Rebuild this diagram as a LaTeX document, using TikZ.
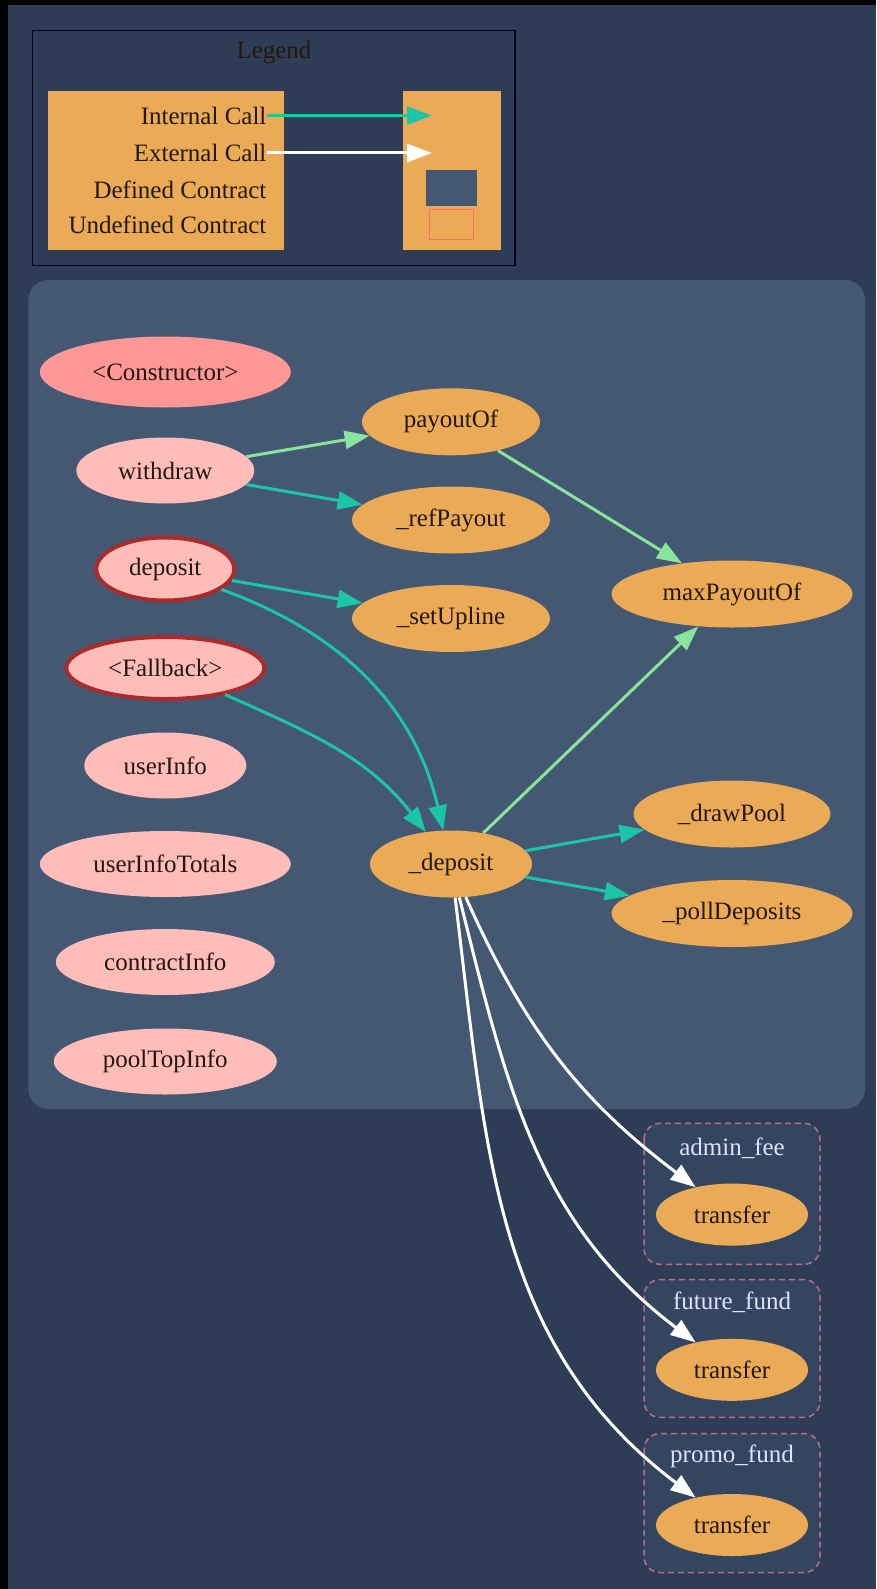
\documentclass[tikz,border=0pt]{standalone}
\usepackage{fontspec}
\setmainfont{Liberation Serif}
\usetikzlibrary{arrows.meta,shapes.geometric}
\definecolor{bgc}{HTML}{2E3D55}
\definecolor{clc}{HTML}{445773}
\definecolor{orc}{HTML}{EBAA55}
\definecolor{pkc}{HTML}{FFBDB9}
\definecolor{ctc}{HTML}{FF9797}
\definecolor{brc}{HTML}{A82C2C}
\definecolor{tlc}{HTML}{1BC6A6}
\definecolor{lgc}{HTML}{87E59C}
\definecolor{txc}{HTML}{22180E}
\definecolor{dsc}{HTML}{B86E88}
\definecolor{sbc}{HTML}{34465F}
\definecolor{rdc}{HTML}{FF6B6B}
\tikzset{
  fn/.style={ellipse, inner sep=0pt, text=txc, font=\fontsize{25}{30}\selectfont},
  pub/.style={fn, fill=pkc},
  ctor/.style={fn, fill=ctc},
  pay/.style={pub, draw=brc, line width=4pt},
  priv/.style={fn, fill=orc},
  icall/.style={draw=tlc, line width=3pt, -{Triangle[length=25pt,width=18pt]}},
  lcall/.style={draw=lgc, line width=3pt, -{Triangle[length=25pt,width=18pt]}},
  ecall/.style={draw=white, line width=3pt, -{Triangle[length=25pt,width=18pt]}},
  sub/.style={draw=dsc, fill=sbc, line width=1.5pt, dash pattern=on 6pt off 4pt, rounded corners=16pt},
  lgtxt/.style={anchor=east, inner sep=0pt, text=txc, font=\fontsize{25}{30}\selectfont},
  sbt/.style={text=white!88!blue, font=\fontsize{25}{30}\selectfont}
}
\begin{document}
\begin{tikzpicture}[x=1pt,y=-1pt]
\useasboundingbox (0,0) rectangle (876,1589);
\fill[bgc] (0,0) rectangle (876,1589);
\fill[black] (0,0) rectangle (876,5);
\fill[black] (0,0) rectangle (8,1589);
% legend
\draw[draw=black!85!blue, line width=1.5pt, fill=bgc] (32.4,30.4) rectangle (515,265.6);
\node[text=txc, font=\fontsize{25}{30}\selectfont] (lgt) at (274,53) {Legend};
\fill[orc] (47.7,91.2) rectangle (284,250.4);
\fill[orc] (402.5,91.2) rectangle (501,250.4);
\node[lgtxt] (li) at (266.6,115.6) {Internal Call};
\node[lgtxt] (le) at (266.6,153) {External Call};
\node[lgtxt] (ld) at (266.6,189.6) {Defined Contract};
\node[lgtxt] (lu) at (266.6,225) {Undefined Contract};
\coordinate (lia) at (432,115.6);
\coordinate (lea) at (432,153);
\draw[icall] (li.east) -- (lia);
\draw[ecall] (le.east) -- (lea);
\fill[clc] (426,170) rectangle (476.5,206);
\draw[rdc, line width=1pt] (429,210) rectangle (473.5,240);
% main cluster
\fill[clc, rounded corners=20pt] (28.4,280) rectangle (865,1109);
% nodes
\node[ctor, minimum width=251pt, minimum height=71pt] (ctor) at (165.3,372) {<Constructor>};
\node[pub, minimum width=178pt, minimum height=66pt] (wd) at (165.3,470.5) {withdraw};
\node[pay, minimum width=138pt, minimum height=63pt] (dep) at (165.3,569) {deposit};
\node[pay, minimum width=198pt, minimum height=62pt] (fb) at (165.3,668) {<Fallback>};
\node[pub, minimum width=162pt, minimum height=66pt] (ui) at (165.3,765.5) {userInfo};
\node[pub, minimum width=251pt, minimum height=66pt] (uit) at (165.3,864) {userInfoTotals};
\node[pub, minimum width=219pt, minimum height=66pt] (ci) at (165.3,962) {contractInfo};
\node[pub, minimum width=223pt, minimum height=66pt] (pti) at (165.3,1061.5) {poolTopInfo};
\node[priv, minimum width=178pt, minimum height=67pt] (po) at (451,421.8) {payoutOf};
\node[priv, minimum width=198pt, minimum height=67pt] (rp) at (451,520) {\_refPayout};
\node[priv, minimum width=198pt, minimum height=67pt] (su) at (451,618.5) {\_setUpline};
\node[priv, minimum width=241pt, minimum height=67pt] (mp) at (732,594) {maxPayoutOf};
\node[priv, minimum width=197pt, minimum height=67pt] (dp) at (732,814) {\_drawPool};
\node[priv, minimum width=241pt, minimum height=67pt] (pd) at (732,913.5) {\_pollDeposits};
\node[priv, minimum width=162pt, minimum height=67pt] (dd) at (451,864) {\_deposit};
% sub clusters
\draw[sub] (644,1123.4) rectangle (820,1264.3);
\draw[sub] (644,1279.6) rectangle (820,1417.4);
\draw[sub] (644,1433.6) rectangle (820,1572.5);
\node[sbt] (s1) at (732,1148) {admin\_fee};
\node[sbt] (s2) at (732,1302) {future\_fund};
\node[sbt] (s3) at (732,1456) {promo\_fund};
\node[priv, minimum width=152pt, minimum height=62pt] (t1) at (732,1214.6) {transfer};
\node[priv, minimum width=152pt, minimum height=62pt] (t2) at (732,1369.8) {transfer};
\node[priv, minimum width=152pt, minimum height=62pt] (t3) at (732,1525) {transfer};
% edges
\draw[lcall] (wd) -- (po);
\draw[icall] (wd) -- (rp);
\draw[icall] (dep) -- (su);
\draw[icall] (dep) to[out=-20,in=103] (dd);
\draw[icall] (fb) to[out=-24,in=128] (dd);
\draw[lcall] (po) -- (mp);
\draw[lcall] (dd) -- (mp);
\draw[icall] (dd) -- (dp);
\draw[icall] (dd) -- (pd);
\draw[ecall] (dd) to[out=-66,in=143] (t1);
\draw[ecall] (dd) to[out=-76,in=143] (t2);
\draw[ecall] (dd) to[out=-83,in=143] (t3);
\end{tikzpicture}
\end{document}
